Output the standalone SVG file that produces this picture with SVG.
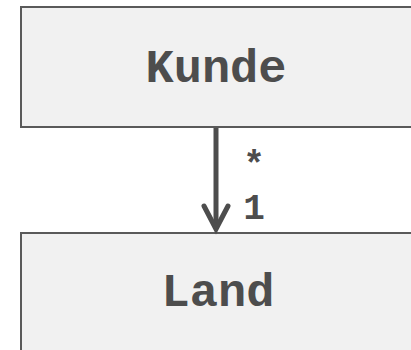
<svg xmlns="http://www.w3.org/2000/svg" width="411" height="350" viewBox="0 0 411 350">
  <style>
    .box { fill: #f1f1f1; stroke: #5a5a5a; stroke-width: 2; }
    .label { font-family: "Liberation Mono", "DejaVu Sans Mono", monospace; font-weight: bold; font-size: 47px; fill: #4d4d4d; text-anchor: middle; }
    .mult { font-family: "Liberation Mono", "DejaVu Sans Mono", monospace; font-weight: bold; font-size: 36px; fill: #4d4d4d; text-anchor: middle; }
    .edge { stroke: #4d4d4d; stroke-width: 5; fill: none; }
  </style>
  <rect x="0" y="0" width="411" height="350" fill="#ffffff"/>
  <g id="kunde">
    <rect class="box" x="21" y="7" width="392" height="120"/>
    <text class="label" x="216" y="82">Kunde</text>
  </g>
  <g id="land">
    <rect class="box" x="21" y="233" width="392" height="130"/>
    <text class="label" x="218" y="306">Land</text>
  </g>
  <g id="connectors">
    <line class="edge" x1="216" y1="128" x2="216" y2="229"/>
    <polyline class="edge" points="204,206 216,229 228,206" stroke-linejoin="miter" stroke-linecap="round"/>
    <text class="mult" x="254" y="176" font-size="40">*</text>
    <text class="mult" x="254" y="219">1</text>
  </g>
</svg>
